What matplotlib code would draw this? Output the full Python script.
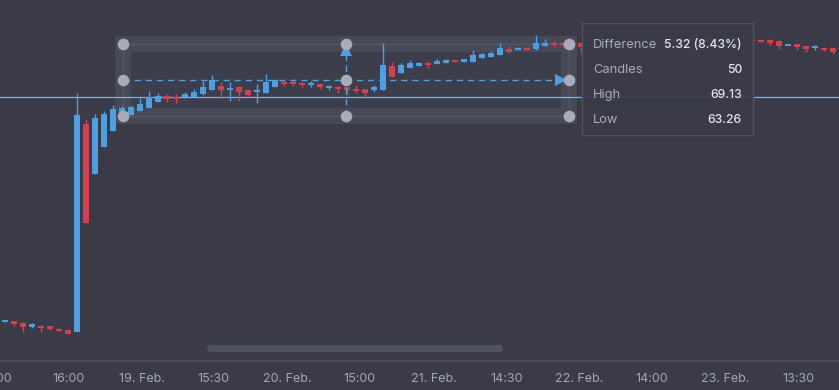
import matplotlib
matplotlib.use("Agg")
import matplotlib.pyplot as plt
from matplotlib.patches import Rectangle
from matplotlib.lines import Line2D
import numpy as np

# candle data, one entry per candle
opens = [48.01, 48.02, 47.93, 47.60, 47.71, 47.67, 47.48, 47.38, 47.23, 62.56,
         58.89, 60.91, 62.09, 63.40, 63.27, 63.52, 63.76, 64.19, 64.58, 64.54,
         64.55, 64.60, 64.78, 65.09, 65.41, 65.09, 65.29, 65.09, 64.92, 64.89,
         65.34, 65.68, 65.70, 65.63, 65.50, 65.54, 65.26, 65.34, 65.31, 65.20,
         65.19, 65.09, 65.09, 66.87, 66.37, 66.69, 66.88, 67.05, 67.00, 67.06,
         67.31, 67.18, 67.18, 67.48, 67.55, 67.68, 68.10, 68.05, 68.19, 68.10,
         68.34, 68.58, 68.52, 68.66, 68.54, 68.29, 68.34, 68.41, 68.49, 68.56,
         68.53, 68.64, 68.71, 68.75, 68.71, 68.78, 68.75, 68.82, 68.86, 68.90,
         68.86, 68.93, 68.95, 68.80, 68.76, 68.80, 68.73, 68.39, 68.47, 68.32,
         68.23, 68.21, 68.17]
highs = [48.08, 48.05, 47.97, 47.86, 47.75, 47.71, 47.49, 47.42, 64.87, 62.95,
         63.32, 63.57, 63.99, 63.91, 63.91, 64.48, 65.04, 64.89, 64.78, 64.80,
         64.94, 65.14, 65.76, 66.20, 65.71, 65.71, 65.39, 65.13, 65.54, 66.27,
         65.90, 65.88, 65.90, 65.65, 65.78, 65.57, 65.43, 65.39, 65.35, 65.46,
         65.20, 65.46, 68.54, 67.14, 67.11, 67.34, 67.16, 67.25, 67.37, 67.38,
         67.32, 67.40, 68.05, 67.79, 67.97, 68.54, 68.34, 68.27, 68.23, 69.13,
         68.86, 68.71, 68.63, 68.67, 68.56, 68.40, 68.45, 68.52, 68.60, 68.60,
         68.70, 68.76, 68.80, 68.78, 68.83, 68.80, 68.86, 68.92, 68.95, 68.92,
         68.98, 69.00, 68.97, 68.82, 68.78, 68.82, 68.75, 68.45, 68.49, 68.34,
         68.41, 68.23, 68.19]
lows = [47.97, 47.67, 47.23, 47.53, 47.23, 47.38, 47.27, 47.05, 47.20, 55.28,
        58.86, 60.89, 62.07, 63.36, 63.26, 63.51, 63.74, 64.17, 64.23, 64.13,
        64.52, 64.58, 64.75, 65.07, 64.41, 64.28, 64.28, 64.60, 64.16, 64.87,
        65.31, 65.39, 65.39, 65.29, 65.34, 65.14, 65.09, 64.89, 64.72, 64.85,
        64.48, 64.97, 65.07, 66.02, 66.35, 66.68, 66.86, 66.72, 66.99, 67.05,
        67.18, 67.16, 67.16, 67.45, 67.53, 67.65, 67.86, 68.02, 68.05, 68.08,
        68.32, 68.29, 68.27, 68.04, 67.80, 68.22, 68.30, 68.36, 68.44, 68.45,
        68.50, 68.60, 68.66, 68.65, 68.68, 68.70, 68.72, 68.78, 68.82, 68.80,
        68.83, 68.88, 68.84, 68.71, 68.67, 68.41, 68.12, 68.38, 68.07, 67.92,
        68.07, 68.00, 67.73]
closes = [48.05, 47.86, 47.57, 47.82, 47.49, 47.42, 47.31, 47.09, 63.25, 55.30,
          63.00, 63.34, 63.67, 63.77, 63.84, 64.06, 64.55, 64.65, 64.48, 64.47,
          64.78, 64.95, 65.34, 65.83, 65.09, 65.26, 64.97, 64.72, 65.09, 65.68,
          65.83, 65.51, 65.54, 65.44, 65.57, 65.29, 65.41, 65.17, 65.06, 65.02,
          64.85, 65.29, 66.94, 66.03, 66.94, 67.05, 67.11, 66.94, 67.20, 67.29,
          67.20, 67.37, 67.64, 67.75, 67.85, 68.22, 67.88, 68.22, 68.07, 68.54,
          68.58, 68.41, 68.41, 68.41, 68.29, 68.34, 68.41, 68.49, 68.56, 68.53,
          68.64, 68.71, 68.75, 68.71, 68.78, 68.75, 68.82, 68.86, 68.90, 68.86,
          68.93, 68.95, 68.90, 68.75, 68.69, 68.58, 68.34, 68.44, 68.27, 68.12,
          68.29, 68.02, 67.92]

tick_pos = [7.1, 15.2, 23.2, 31.4, 39.4, 47.6, 55.7, 63.8, 71.9, 80.0, 88.2]
tick_labels = ["16:00", "19. Feb.", "15:30", "20. Feb.", "15:00", "21. Feb.",
               "14:30", "22. Feb.", "14:00", "23. Feb.", "13:30"]

# measuring tool range and crosshair
sel_start, sel_end = 13.1, 62.7
sel_high, sel_low = 68.49, 63.17
cross_price = 64.58

tip_labels = ["Difference", "Candles", "High", "Low"]
tip_values = ["5.32 (8.43%)", "50", "69.13", "63.26"]

bg = "#3a3b47"
up_col = "#4c9fe3"
down_col = "#d63f4d"
W, H = 839, 390

plt.rcParams['font.family'] = ['Inter', 'DejaVu Sans']

fig = plt.figure(figsize=(W / 100, H / 100), dpi=100)
fig.patch.set_facecolor(bg)
ax = fig.add_axes([0, 29 / H, 1, 361 / H])
ax.set_facecolor(bg)
ax.set_xlim(-0.556, 92.667)
ax.set_ylim(45.09, 71.735)
for s in ["top", "left", "right"]:
    ax.spines[s].set_visible(False)
ax.spines["bottom"].set_color("#4b4d5a")
ax.spines["bottom"].set_linewidth(1.5)
ax.set_yticks([])
ax.set_xticks(tick_pos, tick_labels)
ax.tick_params(axis="x", length=0, pad=9, colors="#a3a6b3", labelsize=9)

# selection box band
mid = (sel_high + sel_low) / 2
ax.add_patch(Rectangle((sel_start, sel_low), sel_end - sel_start, sel_high - sel_low,
                       facecolor="#3d3e4b", edgecolor="#474957", lw=11.5,
                       joinstyle="miter", zorder=1))
ax.add_patch(Rectangle((sel_start, sel_low), sel_end - sel_start, sel_high - sel_low,
                       fill=False, edgecolor="#555869", lw=1, zorder=1.5))

# crosshair
ax.axhline(cross_price, color="#7fb0e0", lw=0.9, zorder=2)

# candles
o = np.array(opens)
c = np.array(closes)
x = np.arange(len(o))
cols = np.where(c >= o, up_col, down_col)
ax.vlines(x, lows, highs, colors=cols, lw=1, zorder=3)
body_h = np.maximum(np.abs(c - o), 0.17)
body_b = np.where(np.abs(c - o) < 0.17, (o + c) / 2 - 0.085, np.minimum(o, c))
ax.bar(x, body_h, bottom=body_b, width=0.7, color=cols, zorder=3.5)

# measuring arrows
xm = (sel_start + sel_end) / 2
ax.plot([sel_start, sel_end - 1.0], [mid, mid], color=up_col, lw=1,
        dashes=(4.5, 3.5), zorder=4)
ax.plot([xm, xm], [sel_low, sel_high - 0.55], color=up_col, lw=1,
        dashes=(4.5, 3.5), zorder=4)
ax.plot(sel_end - 0.95, mid, marker=">", color=up_col, ms=8, mew=0, zorder=4.5)
ax.plot(xm, sel_high - 0.45, marker="^", color=up_col, ms=8, mew=0, zorder=4.5)

# handles
hx = [sel_start, xm, sel_end]
hy = [sel_low, mid, sel_high]
for yy in hy:
    ax.scatter(hx, [yy] * 3, s=70, color="#a9abb8", zorder=5, linewidths=0)

# partially visible first label, level with the tick labels
ax.text(-1.0, -(9 * 100 / 72) / 361, "17:00", transform=ax.get_xaxis_transform(),
        ha="center", va="top", fontsize=9, color="#a3a6b3", clip_on=False)


def fx(px):
    return px / W


def fy(py):
    return 1 - py / H


# tooltip
fig.add_artist(Rectangle((fx(582), fy(134.5)), fx(753) - fx(582), fy(22.5) - fy(134.5),
                         transform=fig.transFigure, facecolor=bg, alpha=0.93,
                         edgecolor="none", zorder=10))
fig.add_artist(Rectangle((fx(582), fy(134.5)), fx(753) - fx(582), fy(22.5) - fy(134.5),
                         transform=fig.transFigure, fill=False,
                         edgecolor="#50525f", lw=1, zorder=11))
for k, (lab, val) in enumerate(zip(tip_labels, tip_values)):
    yy = fy(45 + k * 25)
    fig.text(fx(593), yy, lab, color="#a7a9b5", fontsize=9.3, va="center",
             ha="left", zorder=12)
    fig.text(fx(742), yy, val, color="#e4e5ec", fontsize=8.8, va="center",
             ha="right", weight="medium", zorder=12)

# navigator scrollbar
fig.add_artist(Line2D([fx(210), fx(499)], [fy(347.5), fy(347.5)],
                      transform=fig.transFigure, color="#50525f", lw=5.2,
                      solid_capstyle="round", zorder=10))

fig.savefig("out.png", dpi=100, facecolor=bg)
